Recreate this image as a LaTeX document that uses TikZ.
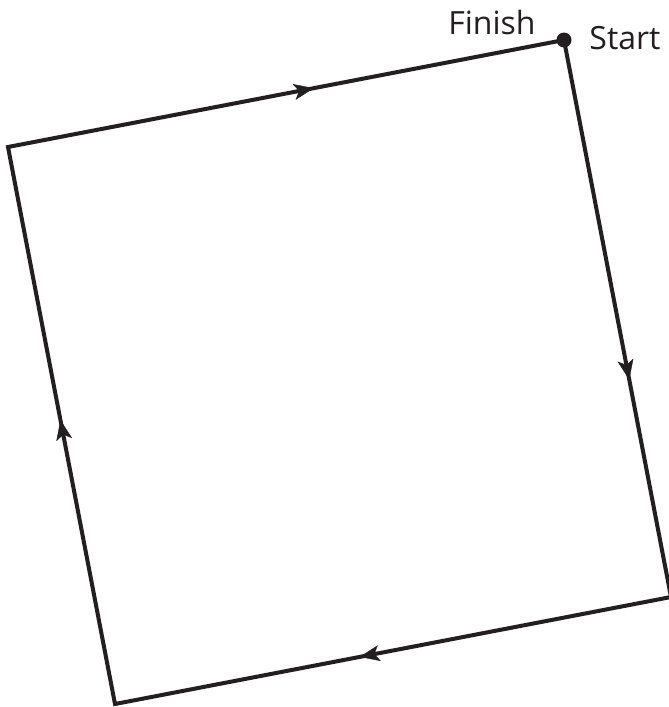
\documentclass[tikz,border=0pt]{standalone}
\usepackage{fontspec}
\setmainfont{Open Sans}
\usetikzlibrary{arrows.meta,decorations.markings}
\definecolor{ink}{HTML}{231F20}
\tikzset{
  edge/.style={draw=ink, line width=4pt, line join=miter},
  midarrow/.style={decoration={markings, mark=at position #1 with {\arrow{Stealth[length=20pt,width=16pt,inset=5pt]}}}, postaction={decorate}, draw=none, ink, fill=ink},
  lbl/.style={font=\fontsize{32}{34}\selectfont, text=ink, inner sep=0pt}
}
\begin{document}
\begin{tikzpicture}[x=1pt,y=-1pt]
\useasboundingbox (0,0) rectangle (669,707);
\coordinate (TR) at (564,40);
\coordinate (BR) at (671,597);
\coordinate (BL) at (115,704);
\coordinate (TL) at (8,147);
\draw[edge] (TR) -- (BR) -- (BL) -- (TL) -- cycle;
\path[midarrow=0.61] (TR) -- (BR);
\path[midarrow=0.56] (BR) -- (BL);
\path[midarrow=0.51] (BL) -- (TL);
\path[midarrow=0.55] (TL) -- (TR);
\node[circle, fill=ink, inner sep=0pt, minimum size=15pt] (dot) at (TR) {};
\node[lbl] (finish) at (492,22) {Finish};
\node[lbl] (start) at (625,38) {Start};
\end{tikzpicture}
\end{document}
